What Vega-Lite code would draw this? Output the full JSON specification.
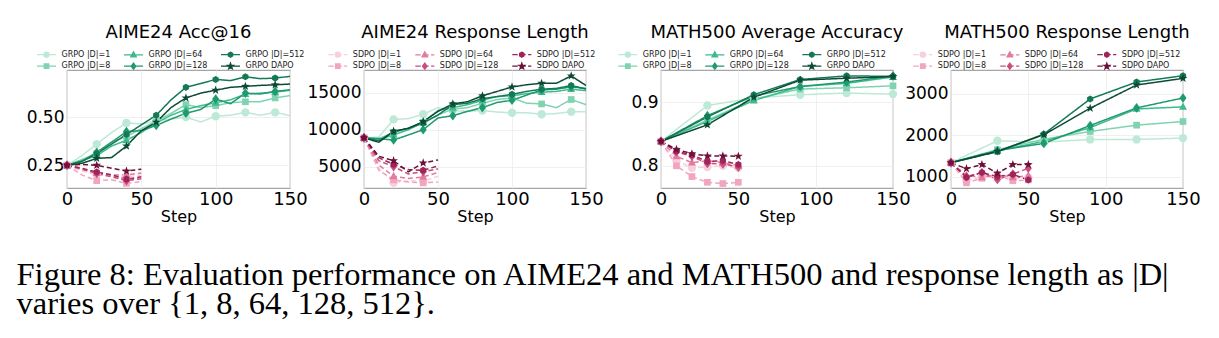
{
"$schema":"https://vega.github.io/schema/vega-lite/v6.json",
"background":"white",
"padding":{"left":16,"top":22,"right":5,"bottom":2},
"bounds":"flush",
"spacing":0,
"title":{"text":["Figure 8: Evaluation performance on AIME24 and MATH500 and response length as |D|","varies over {1, 8, 64, 128, 512}."],"orient":"bottom","anchor":"start","dx":-9,"offset":34,"font":"Liberation Serif","fontSize":32.5,"fontWeight":"normal","lineHeight":29.5,"color":"#000"},
"datasets":{
"aimeAcc":[
{"series":"GRPO |D|=1","step":0,"value":0.25},{"series":"GRPO |D|=1","step":10,"value":0.30},{"series":"GRPO |D|=1","step":20,"value":0.36},{"series":"GRPO |D|=1","step":30,"value":0.42},{"series":"GRPO |D|=1","step":40,"value":0.47},{"series":"GRPO |D|=1","step":50,"value":0.465},{"series":"GRPO |D|=1","step":60,"value":0.48},{"series":"GRPO |D|=1","step":70,"value":0.49},{"series":"GRPO |D|=1","step":80,"value":0.50},{"series":"GRPO |D|=1","step":90,"value":0.475},{"series":"GRPO |D|=1","step":100,"value":0.505},{"series":"GRPO |D|=1","step":110,"value":0.51},{"series":"GRPO |D|=1","step":120,"value":0.525},{"series":"GRPO |D|=1","step":130,"value":0.51},{"series":"GRPO |D|=1","step":140,"value":0.525},{"series":"GRPO |D|=1","step":150,"value":0.508},
{"series":"GRPO |D|=8","step":0,"value":0.25},{"series":"GRPO |D|=8","step":10,"value":0.28},{"series":"GRPO |D|=8","step":20,"value":0.31},{"series":"GRPO |D|=8","step":30,"value":0.37},{"series":"GRPO |D|=8","step":40,"value":0.40},{"series":"GRPO |D|=8","step":50,"value":0.44},{"series":"GRPO |D|=8","step":60,"value":0.48},{"series":"GRPO |D|=8","step":70,"value":0.52},{"series":"GRPO |D|=8","step":80,"value":0.565},{"series":"GRPO |D|=8","step":90,"value":0.55},{"series":"GRPO |D|=8","step":100,"value":0.56},{"series":"GRPO |D|=8","step":110,"value":0.575},{"series":"GRPO |D|=8","step":120,"value":0.58},{"series":"GRPO |D|=8","step":130,"value":0.58},{"series":"GRPO |D|=8","step":140,"value":0.60},{"series":"GRPO |D|=8","step":150,"value":0.612},
{"series":"GRPO |D|=64","step":0,"value":0.25},{"series":"GRPO |D|=64","step":10,"value":0.275},{"series":"GRPO |D|=64","step":20,"value":0.30},{"series":"GRPO |D|=64","step":30,"value":0.35},{"series":"GRPO |D|=64","step":40,"value":0.38},{"series":"GRPO |D|=64","step":50,"value":0.42},{"series":"GRPO |D|=64","step":60,"value":0.47},{"series":"GRPO |D|=64","step":70,"value":0.51},{"series":"GRPO |D|=64","step":80,"value":0.54},{"series":"GRPO |D|=64","step":90,"value":0.56},{"series":"GRPO |D|=64","step":100,"value":0.575},{"series":"GRPO |D|=64","step":110,"value":0.59},{"series":"GRPO |D|=64","step":120,"value":0.62},{"series":"GRPO |D|=64","step":130,"value":0.625},{"series":"GRPO |D|=64","step":140,"value":0.63},{"series":"GRPO |D|=64","step":150,"value":0.64},
{"series":"GRPO |D|=128","step":0,"value":0.25},{"series":"GRPO |D|=128","step":10,"value":0.27},{"series":"GRPO |D|=128","step":20,"value":0.318},{"series":"GRPO |D|=128","step":30,"value":0.37},{"series":"GRPO |D|=128","step":40,"value":0.425},{"series":"GRPO |D|=128","step":50,"value":0.43},{"series":"GRPO |D|=128","step":60,"value":0.457},{"series":"GRPO |D|=128","step":70,"value":0.49},{"series":"GRPO |D|=128","step":80,"value":0.52},{"series":"GRPO |D|=128","step":90,"value":0.54},{"series":"GRPO |D|=128","step":100,"value":0.594},{"series":"GRPO |D|=128","step":110,"value":0.57},{"series":"GRPO |D|=128","step":120,"value":0.625},{"series":"GRPO |D|=128","step":130,"value":0.62},{"series":"GRPO |D|=128","step":140,"value":0.634},{"series":"GRPO |D|=128","step":150,"value":0.642},
{"series":"GRPO |D|=512","step":0,"value":0.25},{"series":"GRPO |D|=512","step":10,"value":0.27},{"series":"GRPO |D|=512","step":20,"value":0.31},{"series":"GRPO |D|=512","step":30,"value":0.36},{"series":"GRPO |D|=512","step":40,"value":0.41},{"series":"GRPO |D|=512","step":50,"value":0.46},{"series":"GRPO |D|=512","step":60,"value":0.51},{"series":"GRPO |D|=512","step":70,"value":0.59},{"series":"GRPO |D|=512","step":80,"value":0.655},{"series":"GRPO |D|=512","step":90,"value":0.675},{"series":"GRPO |D|=512","step":100,"value":0.696},{"series":"GRPO |D|=512","step":110,"value":0.69},{"series":"GRPO |D|=512","step":120,"value":0.71},{"series":"GRPO |D|=512","step":130,"value":0.70},{"series":"GRPO |D|=512","step":140,"value":0.703},{"series":"GRPO |D|=512","step":150,"value":0.712},
{"series":"GRPO DAPO","step":0,"value":0.25},{"series":"GRPO DAPO","step":10,"value":0.26},{"series":"GRPO DAPO","step":20,"value":0.286},{"series":"GRPO DAPO","step":30,"value":0.29},{"series":"GRPO DAPO","step":40,"value":0.35},{"series":"GRPO DAPO","step":50,"value":0.43},{"series":"GRPO DAPO","step":60,"value":0.474},{"series":"GRPO DAPO","step":70,"value":0.55},{"series":"GRPO DAPO","step":80,"value":0.60},{"series":"GRPO DAPO","step":90,"value":0.625},{"series":"GRPO DAPO","step":100,"value":0.64},{"series":"GRPO DAPO","step":110,"value":0.655},{"series":"GRPO DAPO","step":120,"value":0.66},{"series":"GRPO DAPO","step":130,"value":0.665},{"series":"GRPO DAPO","step":140,"value":0.668},{"series":"GRPO DAPO","step":150,"value":0.672},
{"series":"SDPO |D|=1","step":0,"value":0.25},{"series":"SDPO |D|=1","step":10,"value":0.22},{"series":"SDPO |D|=1","step":20,"value":0.20},{"series":"SDPO |D|=1","step":30,"value":0.195},{"series":"SDPO |D|=1","step":40,"value":0.19},{"series":"SDPO |D|=1","step":50,"value":0.20},
{"series":"SDPO |D|=8","step":0,"value":0.25},{"series":"SDPO |D|=8","step":10,"value":0.20},{"series":"SDPO |D|=8","step":20,"value":0.17},{"series":"SDPO |D|=8","step":30,"value":0.175},{"series":"SDPO |D|=8","step":40,"value":0.156},{"series":"SDPO |D|=8","step":50,"value":0.165},
{"series":"SDPO |D|=64","step":0,"value":0.25},{"series":"SDPO |D|=64","step":10,"value":0.23},{"series":"SDPO |D|=64","step":20,"value":0.21},{"series":"SDPO |D|=64","step":30,"value":0.20},{"series":"SDPO |D|=64","step":40,"value":0.20},{"series":"SDPO |D|=64","step":50,"value":0.21},
{"series":"SDPO |D|=128","step":0,"value":0.25},{"series":"SDPO |D|=128","step":10,"value":0.23},{"series":"SDPO |D|=128","step":20,"value":0.208},{"series":"SDPO |D|=128","step":30,"value":0.19},{"series":"SDPO |D|=128","step":40,"value":0.17},{"series":"SDPO |D|=128","step":50,"value":0.18},
{"series":"SDPO |D|=512","step":0,"value":0.25},{"series":"SDPO |D|=512","step":10,"value":0.235},{"series":"SDPO |D|=512","step":20,"value":0.215},{"series":"SDPO |D|=512","step":30,"value":0.20},{"series":"SDPO |D|=512","step":40,"value":0.178},{"series":"SDPO |D|=512","step":50,"value":0.19},
{"series":"SDPO DAPO","step":0,"value":0.25},{"series":"SDPO DAPO","step":10,"value":0.255},{"series":"SDPO DAPO","step":20,"value":0.25},{"series":"SDPO DAPO","step":30,"value":0.235},{"series":"SDPO DAPO","step":40,"value":0.22},{"series":"SDPO DAPO","step":50,"value":0.23}
],
"aimeLen":[
{"series":"GRPO |D|=1","step":0,"value":8900},{"series":"GRPO |D|=1","step":10,"value":9000},{"series":"GRPO |D|=1","step":20,"value":11400},{"series":"GRPO |D|=1","step":30,"value":11500},{"series":"GRPO |D|=1","step":40,"value":12100},{"series":"GRPO |D|=1","step":50,"value":13000},{"series":"GRPO |D|=1","step":60,"value":12600},{"series":"GRPO |D|=1","step":70,"value":12500},{"series":"GRPO |D|=1","step":80,"value":12600},{"series":"GRPO |D|=1","step":90,"value":12400},{"series":"GRPO |D|=1","step":100,"value":12300},{"series":"GRPO |D|=1","step":110,"value":12300},{"series":"GRPO |D|=1","step":120,"value":12100},{"series":"GRPO |D|=1","step":130,"value":12200},{"series":"GRPO |D|=1","step":140,"value":12450},{"series":"GRPO |D|=1","step":150,"value":12450},
{"series":"GRPO |D|=8","step":0,"value":8900},{"series":"GRPO |D|=8","step":10,"value":8800},{"series":"GRPO |D|=8","step":20,"value":9600},{"series":"GRPO |D|=8","step":30,"value":10200},{"series":"GRPO |D|=8","step":40,"value":11000},{"series":"GRPO |D|=8","step":50,"value":12000},{"series":"GRPO |D|=8","step":60,"value":12800},{"series":"GRPO |D|=8","step":70,"value":13000},{"series":"GRPO |D|=8","step":80,"value":13600},{"series":"GRPO |D|=8","step":90,"value":14100},{"series":"GRPO |D|=8","step":100,"value":14300},{"series":"GRPO |D|=8","step":110,"value":13600},{"series":"GRPO |D|=8","step":120,"value":13500},{"series":"GRPO |D|=8","step":130,"value":13000},{"series":"GRPO |D|=8","step":140,"value":14100},{"series":"GRPO |D|=8","step":150,"value":13400},
{"series":"GRPO |D|=64","step":0,"value":8900},{"series":"GRPO |D|=64","step":10,"value":8700},{"series":"GRPO |D|=64","step":20,"value":9300},{"series":"GRPO |D|=64","step":30,"value":10000},{"series":"GRPO |D|=64","step":40,"value":11000},{"series":"GRPO |D|=64","step":50,"value":12600},{"series":"GRPO |D|=64","step":60,"value":13000},{"series":"GRPO |D|=64","step":70,"value":13400},{"series":"GRPO |D|=64","step":80,"value":14000},{"series":"GRPO |D|=64","step":90,"value":14500},{"series":"GRPO |D|=64","step":100,"value":14600},{"series":"GRPO |D|=64","step":110,"value":14900},{"series":"GRPO |D|=64","step":120,"value":15100},{"series":"GRPO |D|=64","step":130,"value":15200},{"series":"GRPO |D|=64","step":140,"value":15500},{"series":"GRPO |D|=64","step":150,"value":15300},
{"series":"GRPO |D|=128","step":0,"value":8900},{"series":"GRPO |D|=128","step":10,"value":8800},{"series":"GRPO |D|=128","step":20,"value":8600},{"series":"GRPO |D|=128","step":30,"value":9300},{"series":"GRPO |D|=128","step":40,"value":10000},{"series":"GRPO |D|=128","step":50,"value":11600},{"series":"GRPO |D|=128","step":60,"value":11900},{"series":"GRPO |D|=128","step":70,"value":12500},{"series":"GRPO |D|=128","step":80,"value":13000},{"series":"GRPO |D|=128","step":90,"value":13700},{"series":"GRPO |D|=128","step":100,"value":14000},{"series":"GRPO |D|=128","step":110,"value":14700},{"series":"GRPO |D|=128","step":120,"value":15400},{"series":"GRPO |D|=128","step":130,"value":15500},{"series":"GRPO |D|=128","step":140,"value":15800},{"series":"GRPO |D|=128","step":150,"value":15600},
{"series":"GRPO |D|=512","step":0,"value":8900},{"series":"GRPO |D|=512","step":10,"value":8500},{"series":"GRPO |D|=512","step":20,"value":9700},{"series":"GRPO |D|=512","step":30,"value":10200},{"series":"GRPO |D|=512","step":40,"value":10900},{"series":"GRPO |D|=512","step":50,"value":12000},{"series":"GRPO |D|=512","step":60,"value":13400},{"series":"GRPO |D|=512","step":70,"value":13600},{"series":"GRPO |D|=512","step":80,"value":14200},{"series":"GRPO |D|=512","step":90,"value":14500},{"series":"GRPO |D|=512","step":100,"value":14800},{"series":"GRPO |D|=512","step":110,"value":15200},{"series":"GRPO |D|=512","step":120,"value":15500},{"series":"GRPO |D|=512","step":130,"value":15600},{"series":"GRPO |D|=512","step":140,"value":16000},{"series":"GRPO |D|=512","step":150,"value":15500},
{"series":"GRPO DAPO","step":0,"value":8900},{"series":"GRPO DAPO","step":10,"value":8300},{"series":"GRPO DAPO","step":20,"value":9800},{"series":"GRPO DAPO","step":30,"value":10200},{"series":"GRPO DAPO","step":40,"value":11100},{"series":"GRPO DAPO","step":50,"value":12500},{"series":"GRPO DAPO","step":60,"value":13500},{"series":"GRPO DAPO","step":70,"value":13800},{"series":"GRPO DAPO","step":80,"value":14600},{"series":"GRPO DAPO","step":90,"value":15200},{"series":"GRPO DAPO","step":100,"value":15800},{"series":"GRPO DAPO","step":110,"value":16100},{"series":"GRPO DAPO","step":120,"value":16300},{"series":"GRPO DAPO","step":130,"value":16300},{"series":"GRPO DAPO","step":140,"value":17300},{"series":"GRPO DAPO","step":150,"value":16000},
{"series":"SDPO |D|=1","step":0,"value":8900},{"series":"SDPO |D|=1","step":10,"value":4800},{"series":"SDPO |D|=1","step":20,"value":2800},{"series":"SDPO |D|=1","step":30,"value":3100},{"series":"SDPO |D|=1","step":40,"value":3000},{"series":"SDPO |D|=1","step":50,"value":3700},
{"series":"SDPO |D|=8","step":0,"value":8900},{"series":"SDPO |D|=8","step":10,"value":4500},{"series":"SDPO |D|=8","step":20,"value":3200},{"series":"SDPO |D|=8","step":30,"value":2900},{"series":"SDPO |D|=8","step":40,"value":2800},{"series":"SDPO |D|=8","step":50,"value":2900},
{"series":"SDPO |D|=64","step":0,"value":8900},{"series":"SDPO |D|=64","step":10,"value":5200},{"series":"SDPO |D|=64","step":20,"value":3700},{"series":"SDPO |D|=64","step":30,"value":3400},{"series":"SDPO |D|=64","step":40,"value":3600},{"series":"SDPO |D|=64","step":50,"value":4200},
{"series":"SDPO |D|=128","step":0,"value":8900},{"series":"SDPO |D|=128","step":10,"value":5800},{"series":"SDPO |D|=128","step":20,"value":5000},{"series":"SDPO |D|=128","step":30,"value":4000},{"series":"SDPO |D|=128","step":40,"value":4300},{"series":"SDPO |D|=128","step":50,"value":4700},
{"series":"SDPO |D|=512","step":0,"value":8900},{"series":"SDPO |D|=512","step":10,"value":6200},{"series":"SDPO |D|=512","step":20,"value":5300},{"series":"SDPO |D|=512","step":30,"value":4600},{"series":"SDPO |D|=512","step":40,"value":4500},{"series":"SDPO |D|=512","step":50,"value":5100},
{"series":"SDPO DAPO","step":0,"value":8900},{"series":"SDPO DAPO","step":10,"value":6400},{"series":"SDPO DAPO","step":20,"value":5800},{"series":"SDPO DAPO","step":30,"value":4300},{"series":"SDPO DAPO","step":40,"value":5500},{"series":"SDPO DAPO","step":50,"value":5900}
],
"mathAcc":[
{"series":"GRPO |D|=1","step":0,"value":0.8385},{"series":"GRPO |D|=1","step":30,"value":0.895},{"series":"GRPO |D|=1","step":60,"value":0.907},{"series":"GRPO |D|=1","step":90,"value":0.912},{"series":"GRPO |D|=1","step":120,"value":0.9146},{"series":"GRPO |D|=1","step":150,"value":0.913},
{"series":"GRPO |D|=8","step":0,"value":0.8385},{"series":"GRPO |D|=8","step":30,"value":0.872},{"series":"GRPO |D|=8","step":60,"value":0.905},{"series":"GRPO |D|=8","step":90,"value":0.921},{"series":"GRPO |D|=8","step":120,"value":0.923},{"series":"GRPO |D|=8","step":150,"value":0.926},
{"series":"GRPO |D|=64","step":0,"value":0.8385},{"series":"GRPO |D|=64","step":30,"value":0.870},{"series":"GRPO |D|=64","step":60,"value":0.903},{"series":"GRPO |D|=64","step":90,"value":0.925},{"series":"GRPO |D|=64","step":120,"value":0.930},{"series":"GRPO |D|=64","step":150,"value":0.940},
{"series":"GRPO |D|=128","step":0,"value":0.8385},{"series":"GRPO |D|=128","step":30,"value":0.879},{"series":"GRPO |D|=128","step":60,"value":0.910},{"series":"GRPO |D|=128","step":90,"value":0.925},{"series":"GRPO |D|=128","step":120,"value":0.932},{"series":"GRPO |D|=128","step":150,"value":0.9417},
{"series":"GRPO |D|=512","step":0,"value":0.8385},{"series":"GRPO |D|=512","step":30,"value":0.877},{"series":"GRPO |D|=512","step":60,"value":0.912},{"series":"GRPO |D|=512","step":90,"value":0.936},{"series":"GRPO |D|=512","step":120,"value":0.9417},{"series":"GRPO |D|=512","step":150,"value":0.941},
{"series":"GRPO DAPO","step":0,"value":0.8385},{"series":"GRPO DAPO","step":30,"value":0.8646},{"series":"GRPO DAPO","step":60,"value":0.908},{"series":"GRPO DAPO","step":90,"value":0.935},{"series":"GRPO DAPO","step":120,"value":0.938},{"series":"GRPO DAPO","step":150,"value":0.9406},
{"series":"SDPO |D|=1","step":0,"value":0.8385},{"series":"SDPO |D|=1","step":10,"value":0.808},{"series":"SDPO |D|=1","step":20,"value":0.797},{"series":"SDPO |D|=1","step":30,"value":0.798},{"series":"SDPO |D|=1","step":40,"value":0.800},{"series":"SDPO |D|=1","step":50,"value":0.797},
{"series":"SDPO |D|=8","step":0,"value":0.8385},{"series":"SDPO |D|=8","step":10,"value":0.800},{"series":"SDPO |D|=8","step":20,"value":0.783},{"series":"SDPO |D|=8","step":30,"value":0.774},{"series":"SDPO |D|=8","step":40,"value":0.772},{"series":"SDPO |D|=8","step":50,"value":0.774},
{"series":"SDPO |D|=64","step":0,"value":0.8385},{"series":"SDPO |D|=64","step":10,"value":0.815},{"series":"SDPO |D|=64","step":20,"value":0.805},{"series":"SDPO |D|=64","step":30,"value":0.808},{"series":"SDPO |D|=64","step":40,"value":0.805},{"series":"SDPO |D|=64","step":50,"value":0.800},
{"series":"SDPO |D|=128","step":0,"value":0.8385},{"series":"SDPO |D|=128","step":10,"value":0.822},{"series":"SDPO |D|=128","step":20,"value":0.815},{"series":"SDPO |D|=128","step":30,"value":0.8036},{"series":"SDPO |D|=128","step":40,"value":0.803},{"series":"SDPO |D|=128","step":50,"value":0.798},
{"series":"SDPO |D|=512","step":0,"value":0.8385},{"series":"SDPO |D|=512","step":10,"value":0.823},{"series":"SDPO |D|=512","step":20,"value":0.817},{"series":"SDPO |D|=512","step":30,"value":0.807},{"series":"SDPO |D|=512","step":40,"value":0.808},{"series":"SDPO |D|=512","step":50,"value":0.802},
{"series":"SDPO DAPO","step":0,"value":0.8385},{"series":"SDPO DAPO","step":10,"value":0.826},{"series":"SDPO DAPO","step":20,"value":0.819},{"series":"SDPO DAPO","step":30,"value":0.8156},{"series":"SDPO DAPO","step":40,"value":0.8156},{"series":"SDPO DAPO","step":50,"value":0.815}
],
"mathLen":[
{"series":"GRPO |D|=1","step":0,"value":1336},{"series":"GRPO |D|=1","step":30,"value":1864},{"series":"GRPO |D|=1","step":60,"value":1830},{"series":"GRPO |D|=1","step":90,"value":1896},{"series":"GRPO |D|=1","step":120,"value":1896},{"series":"GRPO |D|=1","step":150,"value":1928},
{"series":"GRPO |D|=8","step":0,"value":1336},{"series":"GRPO |D|=8","step":30,"value":1650},{"series":"GRPO |D|=8","step":60,"value":1900},{"series":"GRPO |D|=8","step":90,"value":2088},{"series":"GRPO |D|=8","step":120,"value":2240},{"series":"GRPO |D|=8","step":150,"value":2328},
{"series":"GRPO |D|=64","step":0,"value":1336},{"series":"GRPO |D|=64","step":30,"value":1620},{"series":"GRPO |D|=64","step":60,"value":1850},{"series":"GRPO |D|=64","step":90,"value":2180},{"series":"GRPO |D|=64","step":120,"value":2632},{"series":"GRPO |D|=64","step":150,"value":2680},
{"series":"GRPO |D|=128","step":0,"value":1336},{"series":"GRPO |D|=128","step":30,"value":1630},{"series":"GRPO |D|=128","step":60,"value":1800},{"series":"GRPO |D|=128","step":90,"value":2232},{"series":"GRPO |D|=128","step":120,"value":2656},{"series":"GRPO |D|=128","step":150,"value":2896},
{"series":"GRPO |D|=512","step":0,"value":1336},{"series":"GRPO |D|=512","step":30,"value":1600},{"series":"GRPO |D|=512","step":60,"value":2024},{"series":"GRPO |D|=512","step":90,"value":2872},{"series":"GRPO |D|=512","step":120,"value":3280},{"series":"GRPO |D|=512","step":150,"value":3432},
{"series":"GRPO DAPO","step":0,"value":1336},{"series":"GRPO DAPO","step":30,"value":1608},{"series":"GRPO DAPO","step":60,"value":2010},{"series":"GRPO DAPO","step":90,"value":2648},{"series":"GRPO DAPO","step":120,"value":3208},{"series":"GRPO DAPO","step":150,"value":3368},
{"series":"SDPO |D|=1","step":0,"value":1336},{"series":"SDPO |D|=1","step":10,"value":900},{"series":"SDPO |D|=1","step":20,"value":1000},{"series":"SDPO |D|=1","step":30,"value":960},{"series":"SDPO |D|=1","step":40,"value":950},{"series":"SDPO |D|=1","step":50,"value":980},
{"series":"SDPO |D|=8","step":0,"value":1336},{"series":"SDPO |D|=8","step":10,"value":850},{"series":"SDPO |D|=8","step":20,"value":960},{"series":"SDPO |D|=8","step":30,"value":1050},{"series":"SDPO |D|=8","step":40,"value":900},{"series":"SDPO |D|=8","step":50,"value":920},
{"series":"SDPO |D|=64","step":0,"value":1336},{"series":"SDPO |D|=64","step":10,"value":1030},{"series":"SDPO |D|=64","step":20,"value":980},{"series":"SDPO |D|=64","step":30,"value":1050},{"series":"SDPO |D|=64","step":40,"value":980},{"series":"SDPO |D|=64","step":50,"value":1020},
{"series":"SDPO |D|=128","step":0,"value":1336},{"series":"SDPO |D|=128","step":10,"value":1000},{"series":"SDPO |D|=128","step":20,"value":1100},{"series":"SDPO |D|=128","step":30,"value":930},{"series":"SDPO |D|=128","step":40,"value":1060},{"series":"SDPO |D|=128","step":50,"value":1200},
{"series":"SDPO |D|=512","step":0,"value":1336},{"series":"SDPO |D|=512","step":10,"value":980},{"series":"SDPO |D|=512","step":20,"value":1100},{"series":"SDPO |D|=512","step":30,"value":1000},{"series":"SDPO |D|=512","step":40,"value":1050},{"series":"SDPO |D|=512","step":50,"value":920},
{"series":"SDPO DAPO","step":0,"value":1336},{"series":"SDPO DAPO","step":10,"value":1190},{"series":"SDPO DAPO","step":20,"value":1290},{"series":"SDPO DAPO","step":30,"value":1080},{"series":"SDPO DAPO","step":40,"value":1290},{"series":"SDPO DAPO","step":50,"value":1290}
]
},
"resolve":{"scale":{"x":"independent","y":"independent","color":"independent","shape":"independent","strokeDash":"independent"},"legend":{"color":"independent","shape":"independent","strokeDash":"independent"}},
"hconcat":[
{"width":223,"height":118,"title":{"text":"AIME24 Acc@16","offset":6.7},"data":{"name":"aimeAcc"},
"encoding":{
"x":{"field":"step","type":"quantitative","scale":{"domain":[0,150],"nice":false,"zero":false},"axis":{"values":[0,50,100,150],"title":"Step"}},
"y":{"field":"value","type":"quantitative","scale":{"domain":[0.132,0.745],"nice":false,"zero":false},"axis":{"values":[0.25,0.5],"format":".2f","title":null}},
"color":{"field":"series","type":"nominal",
"scale":{"domain":["GRPO |D|=1","GRPO |D|=8","GRPO |D|=64","GRPO |D|=128","GRPO |D|=512","GRPO DAPO","SDPO |D|=1","SDPO |D|=8","SDPO |D|=64","SDPO |D|=128","SDPO |D|=512","SDPO DAPO"],"range":["#bde9d6","#80d3b0","#3dbb8c","#1f9a6e","#137a55","#0c4a36","#f8cfdc","#f0a6bf","#e27b9f","#c94d7f","#a0235a","#6b1038"]},
"legend":{"orient":"none","legendX":-26.5,"legendY":-21.8,"columns":3,"direction":"horizontal","title":null,"padding":0,"values":["GRPO |D|=1","GRPO |D|=64","GRPO |D|=512","GRPO |D|=8","GRPO |D|=128","GRPO DAPO"],
"encoding":{"symbols":{
"size":{"value":100},"strokeWidth":{"value":1.3},"opacity":{"value":1},
"shape":{"value":{"expr":"'M-1.9,0H1.9' + ['M0.5,0A0.5,0.5,0,1,1,-0.5,0A0.5,0.5,0,1,1,0.5,0Z','M-0.45,-0.45H0.45V0.45H-0.45Z','M0,-0.6L0.55,0.4L-0.55,0.4Z','M0,-0.6L0.45,0L0,0.6L-0.45,0Z','M0,-0.5L0.43,-0.25L0.43,0.25L0,0.5L-0.43,0.25L-0.43,-0.25Z','M0,-0.6L0.14,-0.2L0.57,-0.19L0.23,0.08L0.35,0.49L0,0.24L-0.35,0.49L-0.23,0.08L-0.57,-0.19L-0.14,-0.2Z'][indexof(['GRPO |D|=1','GRPO |D|=8','GRPO |D|=64','GRPO |D|=128','GRPO |D|=512','GRPO DAPO'], datum.value)]"}},
"fill":{"value":{"expr":"['#bde9d6','#80d3b0','#3dbb8c','#1f9a6e','#137a55','#0c4a36'][indexof(['GRPO |D|=1','GRPO |D|=8','GRPO |D|=64','GRPO |D|=128','GRPO |D|=512','GRPO DAPO'], datum.value)]"}},
"stroke":{"value":{"expr":"['#bde9d6','#80d3b0','#3dbb8c','#1f9a6e','#137a55','#0c4a36'][indexof(['GRPO |D|=1','GRPO |D|=8','GRPO |D|=64','GRPO |D|=128','GRPO |D|=512','GRPO DAPO'], datum.value)]"}}
}}
}
}
},
"layer":[
{"mark":{"type":"line","strokeWidth":1.5},"encoding":{"strokeDash":{"field":"series","type":"nominal","scale":{"domain":["GRPO DAPO","GRPO |D|=512","GRPO |D|=128","GRPO |D|=64","GRPO |D|=8","GRPO |D|=1","SDPO DAPO","SDPO |D|=512","SDPO |D|=128","SDPO |D|=64","SDPO |D|=8","SDPO |D|=1"],"range":[[1,0],[1,0],[1,0],[1,0],[1,0],[1,0],[5,3],[5,3],[5,3],[5,3],[5,3],[5,3]]},"legend":null}}},
{"transform":[{"filter":"datum.step % 20 == 0"}],"mark":{"type":"point","filled":true,"size":70,"opacity":1},"encoding":{"shape":{"field":"series","type":"nominal","scale":{"domain":["SDPO |D|=1","SDPO |D|=8","SDPO |D|=64","SDPO |D|=128","SDPO |D|=512","SDPO DAPO","GRPO |D|=1","GRPO |D|=8","GRPO |D|=64","GRPO |D|=128","GRPO |D|=512","GRPO DAPO"],"range":["circle","M-0.8,-0.8H0.8V0.8H-0.8Z","M0,-1.05L0.95,0.7L-0.95,0.7Z","M0,-1.15L0.85,0L0,1.15L-0.85,0Z","M0,-0.85L0.74,-0.425L0.74,0.425L0,0.85L-0.74,0.425L-0.74,-0.425Z","M0,-1.1L0.26,-0.36L1.05,-0.34L0.42,0.14L0.65,0.89L0,0.44L-0.65,0.89L-0.42,0.14L-1.05,-0.34L-0.26,-0.36Z","circle","M-0.8,-0.8H0.8V0.8H-0.8Z","M0,-1.05L0.95,0.7L-0.95,0.7Z","M0,-1.15L0.85,0L0,1.15L-0.85,0Z","M0,-0.85L0.74,-0.425L0.74,0.425L0,0.85L-0.74,0.425L-0.74,-0.425Z","M0,-1.1L0.26,-0.36L1.05,-0.34L0.42,0.14L0.65,0.89L0,0.44L-0.65,0.89L-0.42,0.14L-1.05,-0.34L-0.26,-0.36Z"]},"legend":null}}}
]},
{"width":74,"height":118,"data":{"values":[]},"mark":"point","view":{"stroke":null}},
{"width":222,"height":118,"title":{"text":"AIME24 Response Length","offset":6.7},"data":{"name":"aimeLen"},
"encoding":{
"x":{"field":"step","type":"quantitative","scale":{"domain":[0,150],"nice":false,"zero":false},"axis":{"values":[0,50,100,150],"title":"Step"}},
"y":{"field":"value","type":"quantitative","scale":{"domain":[2100,18100],"nice":false,"zero":false},"axis":{"values":[5000,10000,15000],"format":"d","title":null}},
"color":{"field":"series","type":"nominal",
"scale":{"domain":["GRPO |D|=1","GRPO |D|=8","GRPO |D|=64","GRPO |D|=128","GRPO |D|=512","GRPO DAPO","SDPO |D|=1","SDPO |D|=8","SDPO |D|=64","SDPO |D|=128","SDPO |D|=512","SDPO DAPO"],"range":["#bde9d6","#80d3b0","#3dbb8c","#1f9a6e","#137a55","#0c4a36","#f8cfdc","#f0a6bf","#e27b9f","#c94d7f","#a0235a","#6b1038"]},
"legend":{"orient":"none","legendX":-32.2,"legendY":-21.8,"columns":3,"direction":"horizontal","title":null,"padding":0,"values":["SDPO |D|=1","SDPO |D|=64","SDPO |D|=512","SDPO |D|=8","SDPO |D|=128","SDPO DAPO"],
"encoding":{"symbols":{
"size":{"value":100},"strokeWidth":{"value":1.3},"opacity":{"value":1},
"shape":{"value":{"expr":"'M-1.9,0H-0.8M-0.32,0H0.78M1.26,0H1.9' + ['M0.5,0A0.5,0.5,0,1,1,-0.5,0A0.5,0.5,0,1,1,0.5,0Z','M-0.45,-0.45H0.45V0.45H-0.45Z','M0,-0.6L0.55,0.4L-0.55,0.4Z','M0,-0.6L0.45,0L0,0.6L-0.45,0Z','M0,-0.5L0.43,-0.25L0.43,0.25L0,0.5L-0.43,0.25L-0.43,-0.25Z','M0,-0.6L0.14,-0.2L0.57,-0.19L0.23,0.08L0.35,0.49L0,0.24L-0.35,0.49L-0.23,0.08L-0.57,-0.19L-0.14,-0.2Z'][indexof(['SDPO |D|=1','SDPO |D|=8','SDPO |D|=64','SDPO |D|=128','SDPO |D|=512','SDPO DAPO'], datum.value)]"}},
"fill":{"value":{"expr":"['#f8cfdc','#f0a6bf','#e27b9f','#c94d7f','#a0235a','#6b1038'][indexof(['SDPO |D|=1','SDPO |D|=8','SDPO |D|=64','SDPO |D|=128','SDPO |D|=512','SDPO DAPO'], datum.value)]"}},
"stroke":{"value":{"expr":"['#f8cfdc','#f0a6bf','#e27b9f','#c94d7f','#a0235a','#6b1038'][indexof(['SDPO |D|=1','SDPO |D|=8','SDPO |D|=64','SDPO |D|=128','SDPO |D|=512','SDPO DAPO'], datum.value)]"}}
}}
}
}
},
"layer":[
{"mark":{"type":"line","strokeWidth":1.5},"encoding":{"strokeDash":{"field":"series","type":"nominal","scale":{"domain":["GRPO DAPO","GRPO |D|=512","GRPO |D|=128","GRPO |D|=64","GRPO |D|=8","GRPO |D|=1","SDPO DAPO","SDPO |D|=512","SDPO |D|=128","SDPO |D|=64","SDPO |D|=8","SDPO |D|=1"],"range":[[1,0],[1,0],[1,0],[1,0],[1,0],[1,0],[5,3],[5,3],[5,3],[5,3],[5,3],[5,3]]},"legend":null}}},
{"transform":[{"filter":"datum.step % 20 == 0"}],"mark":{"type":"point","filled":true,"size":70,"opacity":1},"encoding":{"shape":{"field":"series","type":"nominal","scale":{"domain":["SDPO |D|=1","SDPO |D|=8","SDPO |D|=64","SDPO |D|=128","SDPO |D|=512","SDPO DAPO","GRPO |D|=1","GRPO |D|=8","GRPO |D|=64","GRPO |D|=128","GRPO |D|=512","GRPO DAPO"],"range":["circle","M-0.8,-0.8H0.8V0.8H-0.8Z","M0,-1.05L0.95,0.7L-0.95,0.7Z","M0,-1.15L0.85,0L0,1.15L-0.85,0Z","M0,-0.85L0.74,-0.425L0.74,0.425L0,0.85L-0.74,0.425L-0.74,-0.425Z","M0,-1.1L0.26,-0.36L1.05,-0.34L0.42,0.14L0.65,0.89L0,0.44L-0.65,0.89L-0.42,0.14L-1.05,-0.34L-0.26,-0.36Z","circle","M-0.8,-0.8H0.8V0.8H-0.8Z","M0,-1.05L0.95,0.7L-0.95,0.7Z","M0,-1.15L0.85,0L0,1.15L-0.85,0Z","M0,-0.85L0.74,-0.425L0.74,0.425L0,0.85L-0.74,0.425L-0.74,-0.425Z","M0,-1.1L0.26,-0.36L1.05,-0.34L0.42,0.14L0.65,0.89L0,0.44L-0.65,0.89L-0.42,0.14L-1.05,-0.34L-0.26,-0.36Z"]},"legend":null}}}
]},
{"width":75,"height":118,"data":{"values":[]},"mark":"point","view":{"stroke":null}},
{"width":232,"height":118,"title":{"text":"MATH500 Average Accuracy","offset":6.7},"data":{"name":"mathAcc"},
"encoding":{
"x":{"field":"step","type":"quantitative","scale":{"domain":[0,150],"nice":false,"zero":false},"axis":{"values":[0,50,100,150],"title":"Step"}},
"y":{"field":"value","type":"quantitative","scale":{"domain":[0.765,0.951],"nice":false,"zero":false},"axis":{"values":[0.8,0.9],"format":".1f","title":null}},
"color":{"field":"series","type":"nominal",
"scale":{"domain":["GRPO |D|=1","GRPO |D|=8","GRPO |D|=64","GRPO |D|=128","GRPO |D|=512","GRPO DAPO","SDPO |D|=1","SDPO |D|=8","SDPO |D|=64","SDPO |D|=128","SDPO |D|=512","SDPO DAPO"],"range":["#bde9d6","#80d3b0","#3dbb8c","#1f9a6e","#137a55","#0c4a36","#f8cfdc","#f0a6bf","#e27b9f","#c94d7f","#a0235a","#6b1038"]},
"legend":{"orient":"none","legendX":-39.2,"legendY":-21.8,"columns":3,"direction":"horizontal","title":null,"padding":0,"values":["GRPO |D|=1","GRPO |D|=64","GRPO |D|=512","GRPO |D|=8","GRPO |D|=128","GRPO DAPO"],
"encoding":{"symbols":{
"size":{"value":100},"strokeWidth":{"value":1.3},"opacity":{"value":1},
"shape":{"value":{"expr":"'M-1.9,0H1.9' + ['M0.5,0A0.5,0.5,0,1,1,-0.5,0A0.5,0.5,0,1,1,0.5,0Z','M-0.45,-0.45H0.45V0.45H-0.45Z','M0,-0.6L0.55,0.4L-0.55,0.4Z','M0,-0.6L0.45,0L0,0.6L-0.45,0Z','M0,-0.5L0.43,-0.25L0.43,0.25L0,0.5L-0.43,0.25L-0.43,-0.25Z','M0,-0.6L0.14,-0.2L0.57,-0.19L0.23,0.08L0.35,0.49L0,0.24L-0.35,0.49L-0.23,0.08L-0.57,-0.19L-0.14,-0.2Z'][indexof(['GRPO |D|=1','GRPO |D|=8','GRPO |D|=64','GRPO |D|=128','GRPO |D|=512','GRPO DAPO'], datum.value)]"}},
"fill":{"value":{"expr":"['#bde9d6','#80d3b0','#3dbb8c','#1f9a6e','#137a55','#0c4a36'][indexof(['GRPO |D|=1','GRPO |D|=8','GRPO |D|=64','GRPO |D|=128','GRPO |D|=512','GRPO DAPO'], datum.value)]"}},
"stroke":{"value":{"expr":"['#bde9d6','#80d3b0','#3dbb8c','#1f9a6e','#137a55','#0c4a36'][indexof(['GRPO |D|=1','GRPO |D|=8','GRPO |D|=64','GRPO |D|=128','GRPO |D|=512','GRPO DAPO'], datum.value)]"}}
}}
}
}
},
"layer":[
{"mark":{"type":"line","strokeWidth":1.5},"encoding":{"strokeDash":{"field":"series","type":"nominal","scale":{"domain":["GRPO DAPO","GRPO |D|=512","GRPO |D|=128","GRPO |D|=64","GRPO |D|=8","GRPO |D|=1","SDPO DAPO","SDPO |D|=512","SDPO |D|=128","SDPO |D|=64","SDPO |D|=8","SDPO |D|=1"],"range":[[1,0],[1,0],[1,0],[1,0],[1,0],[1,0],[5,3],[5,3],[5,3],[5,3],[5,3],[5,3]]},"legend":null}}},
{"mark":{"type":"point","filled":true,"size":70,"opacity":1},"encoding":{"shape":{"field":"series","type":"nominal","scale":{"domain":["SDPO |D|=1","SDPO |D|=8","SDPO |D|=64","SDPO |D|=128","SDPO |D|=512","SDPO DAPO","GRPO |D|=1","GRPO |D|=8","GRPO |D|=64","GRPO |D|=128","GRPO |D|=512","GRPO DAPO"],"range":["circle","M-0.8,-0.8H0.8V0.8H-0.8Z","M0,-1.05L0.95,0.7L-0.95,0.7Z","M0,-1.15L0.85,0L0,1.15L-0.85,0Z","M0,-0.85L0.74,-0.425L0.74,0.425L0,0.85L-0.74,0.425L-0.74,-0.425Z","M0,-1.1L0.26,-0.36L1.05,-0.34L0.42,0.14L0.65,0.89L0,0.44L-0.65,0.89L-0.42,0.14L-1.05,-0.34L-0.26,-0.36Z","circle","M-0.8,-0.8H0.8V0.8H-0.8Z","M0,-1.05L0.95,0.7L-0.95,0.7Z","M0,-1.15L0.85,0L0,1.15L-0.85,0Z","M0,-0.85L0.74,-0.425L0.74,0.425L0,0.85L-0.74,0.425L-0.74,-0.425Z","M0,-1.1L0.26,-0.36L1.05,-0.34L0.42,0.14L0.65,0.89L0,0.44L-0.65,0.89L-0.42,0.14L-1.05,-0.34L-0.26,-0.36Z"]},"legend":null}}}
]},
{"width":58,"height":118,"data":{"values":[]},"mark":"point","view":{"stroke":null}},
{"width":232,"height":118,"title":{"text":"MATH500 Response Length","offset":6.7},"data":{"name":"mathLen"},
"encoding":{
"x":{"field":"step","type":"quantitative","scale":{"domain":[0,150],"nice":false,"zero":false},"axis":{"values":[0,50,100,150],"title":"Step"}},
"y":{"field":"value","type":"quantitative","scale":{"domain":[725,3570],"nice":false,"zero":false},"axis":{"values":[1000,2000,3000],"format":"d","title":null}},
"color":{"field":"series","type":"nominal",
"scale":{"domain":["GRPO |D|=1","GRPO |D|=8","GRPO |D|=64","GRPO |D|=128","GRPO |D|=512","GRPO DAPO","SDPO |D|=1","SDPO |D|=8","SDPO |D|=64","SDPO |D|=128","SDPO |D|=512","SDPO DAPO"],"range":["#bde9d6","#80d3b0","#3dbb8c","#1f9a6e","#137a55","#0c4a36","#f8cfdc","#f0a6bf","#e27b9f","#c94d7f","#a0235a","#6b1038"]},
"legend":{"orient":"none","legendX":-34.2,"legendY":-21.8,"columns":3,"direction":"horizontal","title":null,"padding":0,"values":["SDPO |D|=1","SDPO |D|=64","SDPO |D|=512","SDPO |D|=8","SDPO |D|=128","SDPO DAPO"],
"encoding":{"symbols":{
"size":{"value":100},"strokeWidth":{"value":1.3},"opacity":{"value":1},
"shape":{"value":{"expr":"'M-1.9,0H-0.8M-0.32,0H0.78M1.26,0H1.9' + ['M0.5,0A0.5,0.5,0,1,1,-0.5,0A0.5,0.5,0,1,1,0.5,0Z','M-0.45,-0.45H0.45V0.45H-0.45Z','M0,-0.6L0.55,0.4L-0.55,0.4Z','M0,-0.6L0.45,0L0,0.6L-0.45,0Z','M0,-0.5L0.43,-0.25L0.43,0.25L0,0.5L-0.43,0.25L-0.43,-0.25Z','M0,-0.6L0.14,-0.2L0.57,-0.19L0.23,0.08L0.35,0.49L0,0.24L-0.35,0.49L-0.23,0.08L-0.57,-0.19L-0.14,-0.2Z'][indexof(['SDPO |D|=1','SDPO |D|=8','SDPO |D|=64','SDPO |D|=128','SDPO |D|=512','SDPO DAPO'], datum.value)]"}},
"fill":{"value":{"expr":"['#f8cfdc','#f0a6bf','#e27b9f','#c94d7f','#a0235a','#6b1038'][indexof(['SDPO |D|=1','SDPO |D|=8','SDPO |D|=64','SDPO |D|=128','SDPO |D|=512','SDPO DAPO'], datum.value)]"}},
"stroke":{"value":{"expr":"['#f8cfdc','#f0a6bf','#e27b9f','#c94d7f','#a0235a','#6b1038'][indexof(['SDPO |D|=1','SDPO |D|=8','SDPO |D|=64','SDPO |D|=128','SDPO |D|=512','SDPO DAPO'], datum.value)]"}}
}}
}
}
},
"layer":[
{"mark":{"type":"line","strokeWidth":1.5},"encoding":{"strokeDash":{"field":"series","type":"nominal","scale":{"domain":["GRPO DAPO","GRPO |D|=512","GRPO |D|=128","GRPO |D|=64","GRPO |D|=8","GRPO |D|=1","SDPO DAPO","SDPO |D|=512","SDPO |D|=128","SDPO |D|=64","SDPO |D|=8","SDPO |D|=1"],"range":[[1,0],[1,0],[1,0],[1,0],[1,0],[1,0],[5,3],[5,3],[5,3],[5,3],[5,3],[5,3]]},"legend":null}}},
{"mark":{"type":"point","filled":true,"size":70,"opacity":1},"encoding":{"shape":{"field":"series","type":"nominal","scale":{"domain":["SDPO |D|=1","SDPO |D|=8","SDPO |D|=64","SDPO |D|=128","SDPO |D|=512","SDPO DAPO","GRPO |D|=1","GRPO |D|=8","GRPO |D|=64","GRPO |D|=128","GRPO |D|=512","GRPO DAPO"],"range":["circle","M-0.8,-0.8H0.8V0.8H-0.8Z","M0,-1.05L0.95,0.7L-0.95,0.7Z","M0,-1.15L0.85,0L0,1.15L-0.85,0Z","M0,-0.85L0.74,-0.425L0.74,0.425L0,0.85L-0.74,0.425L-0.74,-0.425Z","M0,-1.1L0.26,-0.36L1.05,-0.34L0.42,0.14L0.65,0.89L0,0.44L-0.65,0.89L-0.42,0.14L-1.05,-0.34L-0.26,-0.36Z","circle","M-0.8,-0.8H0.8V0.8H-0.8Z","M0,-1.05L0.95,0.7L-0.95,0.7Z","M0,-1.15L0.85,0L0,1.15L-0.85,0Z","M0,-0.85L0.74,-0.425L0.74,0.425L0,0.85L-0.74,0.425L-0.74,-0.425Z","M0,-1.1L0.26,-0.36L1.05,-0.34L0.42,0.14L0.65,0.89L0,0.44L-0.65,0.89L-0.42,0.14L-1.05,-0.34L-0.26,-0.36Z"]},"legend":null}}}
]}
],
"config":{
"font":"DejaVu Sans",
"view":{"stroke":"#a6a6a6","strokeWidth":1.2},
"axis":{"domain":false,"ticks":false,"grid":true,"gridColor":"#ececec","gridWidth":0.8,"labelFont":"DejaVu Sans","labelColor":"#000","labelFlush":false,"labelOverlap":false,"titleFont":"DejaVu Sans","titleFontWeight":"normal","titleFontSize":16,"titleColor":"#000"},
"axisX":{"labelFontSize":18,"labelPadding":2,"titlePadding":0},
"axisY":{"labelFontSize":17,"labelPadding":3},
"legend":{"symbolSize":100,"labelFont":"DejaVu Sans","labelFontSize":8,"labelColor":"#222","labelOffset":9,"columnPadding":10,"rowPadding":-0.8,"gridAlign":"each","symbolStrokeWidth":1.3},
"title":{"font":"DejaVu Sans","fontSize":18,"fontWeight":"normal","color":"#000"}
}
}
